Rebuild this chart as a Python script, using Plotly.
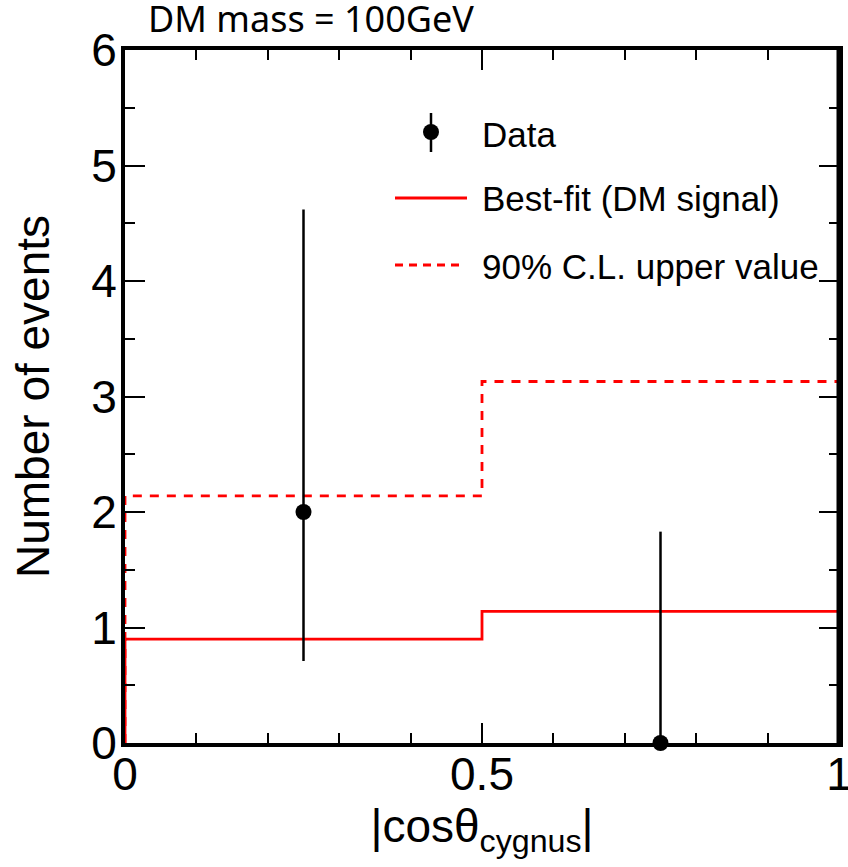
import plotly.graph_objects as go

# ---- data ----
bin_edges = [0.0, 0.5, 1.0]
best_fit = [0.90, 1.14]
upper_90 = [2.14, 3.13]
data_x = [0.25, 0.75]
data_y = [2.0, 0.0]
data_err_up = [2.62, 1.83]
data_err_down = [1.29, 0.0]
x_ticks = [0, 0.5, 1]
x_tick_labels = ["0", "0.5", "1"]
y_ticks = [0, 1, 2, 3, 4, 5, 6]
legend_labels = ["Data", "Best-fit (DM signal)", "90% C.L. upper value"]


def step_xy(edges, vals):
    xs = [edges[0]]
    ys = [0.0]
    for i, v in enumerate(vals):
        xs.append(edges[i])
        ys.append(v)
    xs.append(edges[-1])
    ys.append(vals[-1])
    return xs, ys


fig = go.Figure()

sx, sy = step_xy(bin_edges, upper_90)
fig.add_trace(go.Scatter(x=sx, y=sy, mode="lines", line_shape="hv",
                         line=dict(color="#ff0000", width=2.8, dash="9px,8px"),
                         name=legend_labels[2], showlegend=False, cliponaxis=False))
bx, by = step_xy(bin_edges, best_fit)
fig.add_trace(go.Scatter(x=bx, y=by, mode="lines", line_shape="hv",
                         line=dict(color="#ff0000", width=2.8),
                         name=legend_labels[1], showlegend=False, cliponaxis=False))
fig.add_trace(go.Scatter(x=data_x, y=data_y, mode="markers",
                         marker=dict(color="black", size=16),
                         error_y=dict(type="data", symmetric=False, array=data_err_up,
                                      arrayminus=data_err_down, color="black",
                                      thickness=2.5, width=0),
                         name=legend_labels[0], showlegend=False, cliponaxis=False))

axis_font = dict(family="Liberation Sans, Arial, sans-serif", size=46, color="black")

fig.update_xaxes(range=[0, 1], tickvals=x_ticks, ticktext=x_tick_labels,
                 ticks="inside", ticklen=20, tickwidth=1.8, tickcolor="black",
                 minor=dict(dtick=0.1, ticks="inside", ticklen=10, tickwidth=1.8, tickcolor="black"),
                 showline=True, linewidth=4, linecolor="black", mirror="ticks",
                 showgrid=False, zeroline=False, tickfont=axis_font, automargin=False,
                 ticklabelstandoff=-12, ticklabeloverflow="allow",
                 title=dict(text="|cosθ<sub>cygnus</sub>|", font=axis_font, standoff=11))
fig.update_yaxes(range=[0, 6], tickvals=y_ticks,
                 ticks="inside", ticklen=20, tickwidth=1.8, tickcolor="black",
                 minor=dict(dtick=0.5, ticks="inside", ticklen=10, tickwidth=1.8, tickcolor="black"),
                 showline=True, linewidth=4, linecolor="black", mirror="ticks",
                 showgrid=False, zeroline=False, tickfont=axis_font, automargin=False,
                 ticklabelstandoff=-5, ticklabeloverflow="allow")

# manual legend / labels (paper coordinates)
L, R, T, B = 125, 839, 50, 743
def px(x):
    return (x - L) / (R - L)
def py(y):
    return (B - y) / (B - T)

shapes = [
    # plot frame
    dict(type="rect", xref="paper", yref="paper", x0=px(123), x1=px(838.5), y0=py(745), y1=py(48),
         line=dict(color="black", width=4), layer="above"),
    # legend samples
    dict(type="line", xref="paper", yref="paper", x0=px(431), x1=px(431), y0=py(113), y1=py(152),
         line=dict(color="black", width=2.5)),
    dict(type="circle", xref="paper", yref="paper", x0=px(423), x1=px(439), y0=py(124), y1=py(140),
         fillcolor="black", line=dict(color="black", width=0)),
    dict(type="line", xref="paper", yref="paper", x0=px(395), x1=px(467), y0=py(198), y1=py(198),
         line=dict(color="#ff0000", width=2.8)),
    dict(type="line", xref="paper", yref="paper", x0=px(395), x1=px(462), y0=py(265), y1=py(265),
         line=dict(color="#ff0000", width=2.8, dash="8px,6px")),
]
leg_font = dict(family="Liberation Sans, Arial, sans-serif", size=35, color="black")
annotations = [
    dict(text=legend_labels[0], xref="paper", yref="paper", x=px(480), y=py(134),
         xanchor="left", yanchor="middle", showarrow=False, font=leg_font),
    dict(text=legend_labels[1], xref="paper", yref="paper", x=px(480), y=py(199),
         xanchor="left", yanchor="middle", showarrow=False, font=leg_font),
    dict(text=legend_labels[2], xref="paper", yref="paper", x=px(480), y=py(266),
         xanchor="left", yanchor="middle", showarrow=False, font=leg_font),
    dict(text="DM mass = 100GeV", xref="paper", yref="paper", x=px(146), y=py(45),
         xanchor="left", yanchor="bottom", showarrow=False,
         font=dict(family="Noto Sans, Open Sans, sans-serif", size=36, color="black")),
    dict(text="Number of events", xref="paper", yref="paper", x=px(33), y=py(397),
         xanchor="center", yanchor="middle", textangle=-90, showarrow=False,
         font=axis_font),
]

fig.update_layout(width=848, height=867, margin=dict(l=125, r=9, t=50, b=124),
                  plot_bgcolor="white", paper_bgcolor="white", showlegend=False,
                  shapes=shapes, annotations=annotations)

fig.write_html("out.html", config={"displayModeBar": False},
               post_script="document.body.style.margin='0px';"
                           "document.body.style.overflow='hidden';"
                           "document.documentElement.style.overflow='hidden';")
